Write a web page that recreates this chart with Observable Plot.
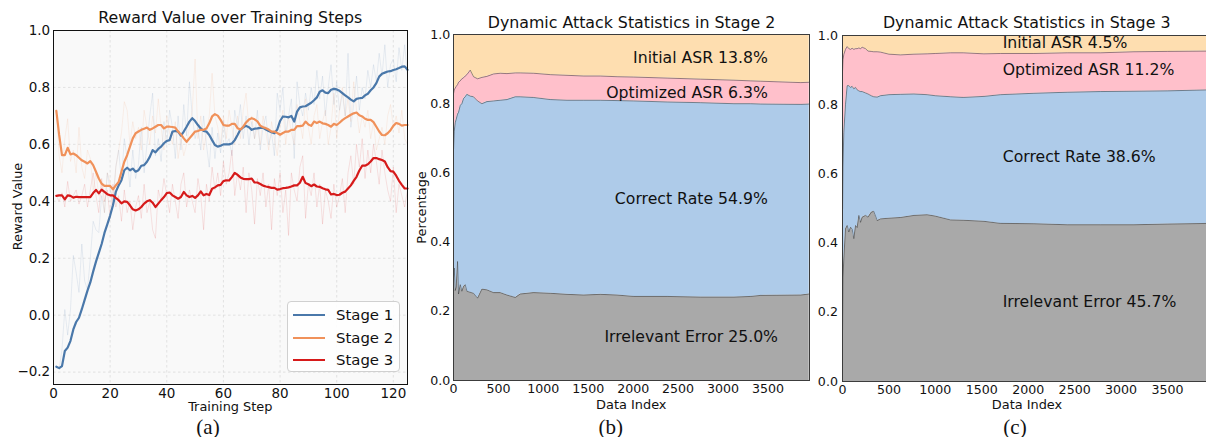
<!DOCTYPE html>
<html><head><meta charset="utf-8">
<script src="https://cdn.jsdelivr.net/npm/d3@7"></script>
<script src="https://cdn.jsdelivr.net/npm/@observablehq/plot@0.6"></script>
<style>
html,body{margin:0;padding:0;background:#fff;overflow:hidden;}
#fig{position:relative;width:1206px;height:437px;overflow:hidden;font-family:"DejaVu Sans",sans-serif;color:#111;background:#fff;}
.abs{position:absolute;white-space:nowrap;}
.title{font-size:15.8px;text-align:center;width:400px;line-height:18px;}
.axlab{font-size:12.9px;text-align:center;width:200px;line-height:13px;}
.cap{font-family:"Liberation Serif","Times New Roman",serif;font-size:21px;width:60px;text-align:center;line-height:20px;}
.panel{position:absolute;top:0;}
.legend{position:absolute;left:287px;top:301px;width:113px;height:71px;border:1px solid #d0d0d0;border-radius:4px;background:rgba(255,255,255,0.85);box-sizing:border-box;}
.legrow{position:absolute;left:5px;height:20px;font-size:14.9px;line-height:20px;}
.legline{position:absolute;left:0;top:9px;width:32px;height:0;border-top:2.4px solid;}
.legtext{position:absolute;left:43px;top:0;}
</style></head><body><div id="fig"></div>
<script>
// ---------- Panel (a): reward curves ----------
const stages = ["Stage 1", "Stage 2", "Stage 3"];
const stageColors = ["#4a78aa", "#f0915a", "#d61a1a"];
const steps = Array.from({length: 125}, (_, i) => i + 1);

const smooth1 = [-0.181,-0.186,-0.179,-0.126,-0.114,-0.09,-0.05,-0.024,-0.009,0.021,
0.054,0.086,0.115,0.153,0.188,0.219,0.25,0.289,0.319,0.35,
0.386,0.433,0.456,0.474,0.509,0.518,0.509,0.515,0.504,0.509,
0.525,0.527,0.539,0.556,0.58,0.572,0.584,0.592,0.604,0.612,
0.615,0.645,0.647,0.645,0.631,0.645,0.662,0.68,0.692,0.682,
0.668,0.656,0.647,0.645,0.633,0.615,0.598,0.592,0.595,0.6,
0.6,0.6,0.603,0.615,0.633,0.652,0.66,0.665,0.66,0.651,
0.655,0.656,0.658,0.658,0.652,0.647,0.643,0.639,0.652,0.682,
0.698,0.697,0.695,0.7,0.68,0.715,0.73,0.733,0.734,0.74,
0.746,0.755,0.765,0.785,0.79,0.782,0.78,0.792,0.795,0.793,
0.788,0.78,0.772,0.765,0.757,0.751,0.76,0.762,0.763,0.772,
0.778,0.79,0.8,0.815,0.838,0.848,0.852,0.856,0.857,0.861,
0.864,0.868,0.873,0.874,0.862];

const smooth2 = [0.718,0.633,0.562,0.562,0.588,0.565,0.568,0.562,0.553,0.544,
0.539,0.533,0.541,0.527,0.504,0.48,0.462,0.454,0.454,0.454,
0.442,0.456,0.468,0.504,0.539,0.562,0.592,0.621,0.639,0.645,
0.651,0.655,0.659,0.651,0.656,0.662,0.668,0.668,0.656,0.662,
0.662,0.661,0.659,0.645,0.635,0.621,0.609,0.621,0.633,0.645,
0.647,0.651,0.651,0.656,0.674,0.698,0.706,0.701,0.686,0.668,
0.666,0.666,0.672,0.672,0.657,0.652,0.662,0.677,0.687,0.692,
0.688,0.681,0.666,0.66,0.657,0.652,0.645,0.645,0.64,0.634,
0.64,0.645,0.645,0.651,0.651,0.664,0.664,0.666,0.68,0.67,
0.665,0.68,0.675,0.68,0.674,0.672,0.668,0.662,0.672,0.668,
0.676,0.685,0.692,0.698,0.704,0.709,0.712,0.702,0.698,0.69,
0.686,0.686,0.678,0.662,0.645,0.633,0.632,0.639,0.65,0.665,
0.675,0.672,0.666,0.668,0.668];

const smooth3 = [0.419,0.421,0.421,0.407,0.421,0.419,0.413,0.416,0.415,0.415,
0.415,0.415,0.415,0.429,0.44,0.428,0.441,0.433,0.425,0.421,
0.421,0.412,0.404,0.393,0.4,0.398,0.386,0.372,0.368,0.372,
0.38,0.392,0.4,0.404,0.395,0.38,0.392,0.404,0.415,0.429,
0.431,0.421,0.415,0.409,0.415,0.433,0.421,0.415,0.419,0.412,
0.421,0.435,0.421,0.426,0.422,0.444,0.449,0.456,0.458,0.471,
0.474,0.473,0.485,0.5,0.493,0.484,0.479,0.478,0.478,0.48,
0.466,0.466,0.461,0.455,0.452,0.45,0.447,0.447,0.441,0.443,
0.446,0.447,0.449,0.452,0.456,0.456,0.465,0.486,0.464,0.46,
0.453,0.459,0.452,0.451,0.446,0.442,0.44,0.424,0.426,0.422,
0.423,0.43,0.434,0.445,0.456,0.472,0.486,0.508,0.525,0.525,
0.53,0.54,0.552,0.552,0.548,0.545,0.54,0.52,0.506,0.504,
0.49,0.472,0.458,0.445,0.445];

const raw1 = [-0.18,-0.19,-0.12,0.02,-0.07,0.02,0.21,0.15,0.08,0.25,
0.12,0.09,0.2,0.33,0.3,0.29,0.42,0.36,0.5,0.44,
0.4,0.52,0.58,0.47,0.62,0.55,0.45,0.58,0.48,0.53,
0.66,0.5,0.6,0.7,0.78,0.56,0.62,0.54,0.68,0.6,
0.72,0.66,0.55,0.7,0.58,0.74,0.63,0.82,0.7,0.62,
0.66,0.58,0.7,0.6,0.52,0.66,0.55,0.64,0.57,0.68,
0.6,0.62,0.56,0.72,0.66,0.74,0.62,0.7,0.6,0.68,
0.62,0.72,0.58,0.66,0.7,0.6,0.64,0.56,0.78,0.72,
0.8,0.64,0.7,0.76,0.55,0.82,0.74,0.7,0.78,0.72,
0.8,0.74,0.86,0.76,0.84,0.7,0.8,0.88,0.74,0.82,
0.72,0.78,0.7,0.92,0.66,0.74,0.84,0.72,0.8,0.76,
0.86,0.8,0.88,0.82,0.92,0.84,0.95,0.8,0.88,0.9,
0.82,0.94,0.86,0.95,0.84];

const raw2 = [0.72,0.56,0.5,0.62,0.69,0.54,0.58,0.5,0.66,0.52,
0.48,0.58,0.55,0.44,0.5,0.42,0.46,0.36,0.5,0.47,
0.38,0.52,0.58,0.64,0.75,0.72,0.6,0.68,0.62,0.66,
0.58,0.72,0.66,0.6,0.7,0.64,0.76,0.66,0.58,0.7,
0.64,0.6,0.68,0.55,0.62,0.56,0.6,0.66,0.72,0.9,
0.62,0.7,0.58,0.64,0.7,0.85,0.7,0.66,0.6,0.7,
0.62,0.72,0.66,0.6,0.7,0.62,0.72,0.78,0.66,0.7,
0.62,0.66,0.6,0.7,0.64,0.58,0.68,0.62,0.56,0.66,
0.72,0.6,0.7,0.64,0.6,0.74,0.68,0.62,0.76,0.66,
0.6,0.7,0.74,0.62,0.68,0.72,0.6,0.66,0.78,0.62,
0.72,0.8,0.7,0.76,0.68,0.82,0.72,0.64,0.7,0.66,
0.72,0.62,0.68,0.58,0.62,0.66,0.6,0.7,0.74,0.66,
0.7,0.64,0.72,0.62,0.6];

const raw3 = [0.42,0.4,0.43,0.38,0.47,0.4,0.42,0.44,0.39,0.42,
0.46,0.38,0.44,0.5,0.42,0.36,0.48,0.4,0.44,0.34,
0.46,0.38,0.42,0.33,0.44,0.36,0.4,0.3,0.38,0.42,
0.34,0.46,0.36,0.4,0.3,0.27,0.44,0.4,0.48,0.42,
0.36,0.46,0.4,0.34,0.46,0.5,0.38,0.44,0.4,0.36,
0.48,0.42,0.3,0.46,0.4,0.52,0.44,0.5,0.42,0.54,
0.46,0.5,0.58,0.42,0.5,0.44,0.52,0.36,0.5,0.44,
0.32,0.48,0.42,0.5,0.38,0.46,0.3,0.48,0.42,0.5,
0.36,0.44,0.28,0.5,0.44,0.4,0.52,0.56,0.34,0.46,
0.42,0.5,0.38,0.46,0.32,0.44,0.4,0.34,0.46,0.38,
0.42,0.48,0.36,0.5,0.56,0.46,0.6,0.52,0.62,0.48,
0.58,0.5,0.6,0.54,0.46,0.58,0.5,0.44,0.4,0.52,
0.36,0.46,0.42,0.38,0.44];

const xTicksA = [0, 20, 40, 60, 80, 100, 120];
const yTicksA = [-0.2, 0.0, 0.2, 0.4, 0.6, 0.8, 1.0];

// ---------- Panels (b) and (c): stacked proportions ----------
const cats = ["Irrelevant Error", "Correct Rate", "Optimized ASR", "Initial ASR"];
const catColors = ["#a9a9a9", "#aecbe9", "#ffc0cb", "#fedeb0"];

const idx2 = [1,8,19,30,45,56,75,93,112,130,149,186,223,268,316,372,446,520,595,688,743,892,1078,1264,1450,1635,1821,2007,2379,2750,3122,3308,3420,3866,3960];
const irr2 = [0.30,0.325,0.26,0.27,0.344,0.25,0.277,0.258,0.272,0.277,0.258,0.255,0.252,0.238,0.264,0.262,0.254,0.254,0.247,0.24,0.25,0.254,0.252,0.249,0.247,0.249,0.247,0.243,0.243,0.241,0.241,0.243,0.246,0.247,0.25];
const cor2 = [0.37,0.395,0.485,0.485,0.426,0.525,0.518,0.542,0.543,0.543,0.569,0.567,0.568,0.57,0.536,0.544,0.554,0.556,0.565,0.58,0.57,0.564,0.56,0.561,0.563,0.561,0.562,0.565,0.562,0.562,0.559,0.557,0.553,0.551,0.549];
const opt2 = [0.16,0.12,0.10,0.095,0.085,0.087,0.071,0.072,0.06,0.06,0.057,0.075,0.058,0.064,0.076,0.073,0.078,0.078,0.075,0.069,0.069,0.07,0.072,0.072,0.07,0.07,0.069,0.069,0.069,0.068,0.068,0.066,0.066,0.063,0.063];
const ini2 = [0.17,0.16,0.155,0.15,0.145,0.138,0.134,0.128,0.125,0.12,0.116,0.103,0.122,0.128,0.124,0.121,0.114,0.112,0.113,0.111,0.111,0.112,0.116,0.118,0.12,0.12,0.122,0.123,0.126,0.129,0.132,0.134,0.135,0.139,0.138];

const idx3 = [1,5,14,32,50,68,86,104,122,140,158,176,194,212,248,275,309,336,374,409,500,625,769,912,1000,1164,1300,1523,1702,2061,2420,2780,3139,3498,3960];
const irr3 = [0.15,0.30,0.354,0.441,0.451,0.432,0.446,0.44,0.413,0.451,0.445,0.48,0.46,0.475,0.48,0.475,0.489,0.492,0.465,0.47,0.472,0.474,0.48,0.482,0.478,0.467,0.466,0.463,0.457,0.456,0.453,0.453,0.453,0.455,0.457];
const cor3 = [0.35,0.32,0.366,0.359,0.404,0.423,0.404,0.413,0.433,0.399,0.398,0.36,0.378,0.363,0.354,0.356,0.337,0.331,0.357,0.356,0.357,0.356,0.351,0.347,0.348,0.356,0.355,0.361,0.372,0.377,0.383,0.385,0.386,0.385,0.386];
const opt3 = [0.40,0.31,0.225,0.16,0.113,0.107,0.11,0.11,0.114,0.112,0.119,0.124,0.124,0.128,0.128,0.124,0.128,0.13,0.131,0.126,0.117,0.114,0.115,0.118,0.122,0.127,0.129,0.123,0.119,0.115,0.114,0.112,0.114,0.114,0.112];
const ini3 = [0.10,0.07,0.055,0.04,0.032,0.038,0.04,0.037,0.04,0.038,0.038,0.036,0.038,0.034,0.038,0.045,0.046,0.047,0.047,0.048,0.054,0.056,0.054,0.053,0.052,0.05,0.05,0.053,0.052,0.052,0.05,0.05,0.047,0.046,0.045];

const xTicksBC = [0, 500, 1000, 1500, 2000, 2500, 3000, 3500];
const yTicksBC = [0.0, 0.2, 0.4, 0.6, 0.8, 1.0];

// ---------- build ----------
const fig = document.getElementById("fig");
const fmt1 = d3.format(".1f");

function addDiv(cls, text, left, top, extra) {
  const d = document.createElement("div");
  d.className = "abs " + cls;
  d.textContent = text;
  d.style.left = left + "px";
  d.style.top = top + "px";
  if (extra) Object.assign(d.style, extra);
  fig.appendChild(d);
  return d;
}
function place(svg, left) {
  svg.classList.add("panel");
  svg.style.left = left + "px";
  fig.appendChild(svg);
}

// Panel (a)
const smoothLong = [];
const rawLong = [];
[smooth1, smooth2, smooth3].forEach((arr, s) => arr.forEach((v, k) => smoothLong.push({step: steps[k], value: v, stage: stages[s]})));
[raw1, raw2, raw3].forEach((arr, s) => arr.forEach((v, k) => rawLong.push({step: steps[k], value: v, stage: stages[s]})));

const plotA = Plot.plot({
  width: 420, height: 437,
  marginLeft: 53, marginRight: 13, marginTop: 30, marginBottom: 53,
  x: {domain: [0, 125]},
  y: {domain: [-0.2435, 1.0]},
  color: {domain: stages, range: stageColors},
  style: {fontFamily: "DejaVu Sans", fontSize: "13.5px", color: "#111", background: "transparent", overflow: "visible"},
  marks: [
    Plot.frame({fill: "#f9f9f9", stroke: null}),
    Plot.gridX({ticks: xTicksA, stroke: "#d9d9d9", strokeOpacity: 1, strokeDasharray: "2.5,2.5", strokeWidth: 0.7}),
    Plot.gridY({ticks: yTicksA, stroke: "#d9d9d9", strokeOpacity: 1, strokeDasharray: "2.5,2.5", strokeWidth: 0.7}),
    Plot.lineY(rawLong, {x: "step", y: "value", z: "stage", stroke: "stage", strokeWidth: 0.8, strokeOpacity: 0.15}),
    Plot.lineY(smoothLong, {x: "step", y: "value", z: "stage", stroke: "stage", strokeWidth: 2.2, strokeLinejoin: "round"}),
    Plot.axisX({ticks: xTicksA, tickSize: 0, tickPadding: 3.5, label: null, tickFormat: "d"}),
    Plot.axisY({ticks: yTicksA, tickSize: 0, tickPadding: 3.3, label: null, tickFormat: fmt1}),
    Plot.frame({stroke: "#111", strokeWidth: 1})
  ]
});
place(plotA, 0);

function stackPlot(idx, shares, opt) {
  const long = [];
  idx.forEach((i, k) => cats.forEach((c, j) => long.push({i, cat: c, v: shares[j][k]})));
  const last = shares.map(s => s[s.length - 1]);
  let cum = 0;
  const labels = cats.map((c, j) => {
    const y = cum + last[j] / 2; cum += last[j];
    return {cat: c, y, text: `${c} ${(last[j] * 100).toFixed(1)}%`, x: opt.labelX[j], anchor: opt.labelAnchor[j]};
  });
  return Plot.plot({
    width: opt.width, height: 437,
    marginLeft: opt.ml, marginRight: opt.mr, marginTop: opt.mt, marginBottom: opt.mb,
    x: {domain: [0, 3963]},
    y: {domain: [0, 1]},
    color: {domain: cats, range: catColors},
    style: {fontFamily: "DejaVu Sans", fontSize: "12.6px", color: "#111", background: "transparent", overflow: "visible"},
    marks: [
      Plot.areaY(long, {x: "i", y: "v", fill: "cat", z: "cat", order: cats}),
      Plot.lineY(long, Plot.stackY2({x: "i", y: "v", z: "cat", order: cats, stroke: "#3a3a3a", strokeOpacity: 0.6, strokeWidth: 0.9})),
      Plot.text(labels.filter(d => d.anchor === "start"), {x: "x", y: "y", text: "text", textAnchor: "start", fontSize: 15.7, fill: "#111"}),
      Plot.text(labels.filter(d => d.anchor === "end"), {x: "x", y: "y", text: "text", textAnchor: "end", fontSize: 15.7, fill: "#111"}),
      Plot.axisX({ticks: xTicksBC, tickSize: 0, tickPadding: 4, label: null, tickFormat: "d"}),
      Plot.axisY({ticks: yTicksBC, tickSize: 0, tickPadding: opt.ypad, label: null, tickFormat: fmt1}),
      Plot.frame({stroke: "#3c3c3c", strokeWidth: 1})
    ]
  });
}

const plotB = stackPlot(idx2, [irr2, cor2, opt2, ini2], {
  width: 412, ml: 53, mr: 3, mt: 34, mb: 57, ypad: 3.3,
  labelX: [1680, 3500, 3500, 3500], labelAnchor: ["start", "end", "end", "end"]
});
place(plotB, 400);

const plotC = stackPlot(idx3, [irr3, cor3, opt3, ini3], {
  width: 413, ml: 42, mr: 3, mt: 35, mb: 56, ypad: 4.6,
  labelX: [1725, 1725, 1725, 1725], labelAnchor: ["start", "start", "start", "start"]
});
place(plotC, 800);

// Titles, axis labels, captions
addDiv("title", "Reward Value over Training Steps", 30.3, 9.3);
addDiv("title", "Dynamic Attack Statistics in Stage 2", 431.5, 14.3);
addDiv("title", "Dynamic Attack Statistics in Stage 3", 826.7, 14.3);
addDiv("axlab", "Training Step", 130.3, 400);
addDiv("axlab", "Data Index", 531.3, 398);
addDiv("axlab", "Data Index", 927, 398.3);
addDiv("axlab", "Reward Value", 17.2 - 100, 206.8 - 6.5, {transform: "rotate(-90deg)"});
addDiv("axlab", "Percentage", 421.3 - 100, 207.3 - 6.5, {transform: "rotate(-90deg)"});
addDiv("cap", "(a)", 208 - 30, 416.5);
addDiv("cap", "(b)", 610.8 - 30, 416.5);
addDiv("cap", "(c)", 1015 - 30, 416.5);

// Legend for panel (a)
const leg = document.createElement("div");
leg.className = "legend";
stages.forEach((s, k) => {
  const row = document.createElement("div");
  row.className = "legrow";
  row.style.top = (3 + k * 22.5) + "px";
  row.style.width = "105px";
  const ln = document.createElement("div");
  ln.className = "legline";
  ln.style.borderTopColor = stageColors[k];
  const tx = document.createElement("div");
  tx.className = "legtext";
  tx.textContent = s;
  row.appendChild(ln); row.appendChild(tx);
  leg.appendChild(row);
});
fig.appendChild(leg);
</script></body></html>
